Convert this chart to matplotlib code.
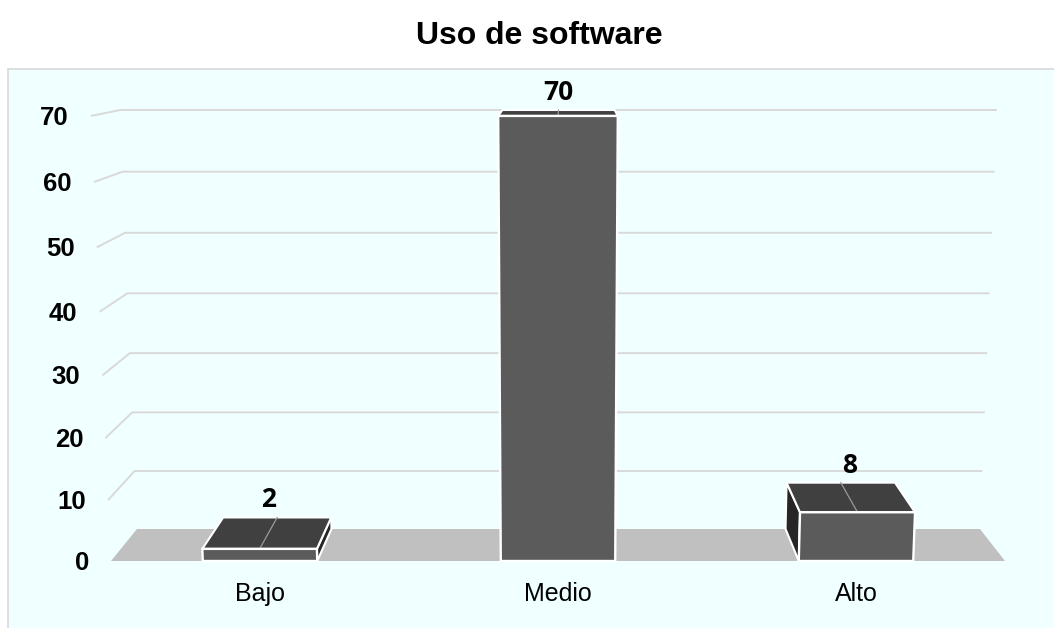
import matplotlib
matplotlib.use("Agg")
import matplotlib.pyplot as plt
from matplotlib.patches import Polygon, Rectangle

# data
categorias = ["Bajo", "Medio", "Alto"]
valores = [2, 70, 8]
ticks = [0, 10, 20, 30, 40, 50, 60, 70]
titulo = "Uso de software"

# colours
FONDO = "#F0FFFF"
MARCO = "#D9D9D9"
PISO = "#C0C0C0"
REJILLA = "#D9D9D9"
CARA_FRONTAL = "#5B5B5B"
CARA_SUPERIOR = "#404040"
CARA_LATERAL = "#262626"

# perspective constants (pixel space of the 1054x628 canvas)
CX = 558.0
FRONT = dict(xl=111.0, xr=1005.0, y0=561.0, a=6.057, b=0.0043, s=0.00064)
BACK = dict(xl=137.0, xr=980.0, y0=529.0, a=5.769, b=0.0031, s=0.00057)
ANCHO_BARRA = 0.128


def plano(p, u, v):
    x = p["xl"] + u * (p["xr"] - p["xl"])
    x = CX + (x - CX) * (1 + p["s"] * v)
    y = p["y0"] - p["a"] * v - p["b"] * v * v
    return x, y


def proj(u, v, d):
    """Map (horizontal fraction, value, depth 0=front..1=back) onto the canvas."""
    xf, yf = plano(FRONT, u, v)
    xb, yb = plano(BACK, u, v)
    return xf + d * (xb - xf), yf + d * (yb - yf)


fig = plt.figure(figsize=(10.54, 6.28), dpi=100)
ax = fig.add_axes([0, 0, 1, 1])
ax.set_xlim(0, 1054)
ax.set_ylim(628, 0)
ax.axis("off")

ax.add_patch(Rectangle((8, 69), 1060, 580, facecolor=FONDO, edgecolor=MARCO, lw=1.2, zorder=0))

# floor
piso = [proj(0, 0, 0), proj(1, 0, 0), proj(1, 0, 1), proj(0, 0, 1)]
ax.add_patch(Polygon(piso, closed=True, facecolor=PISO, edgecolor="none", zorder=1))

# gridlines on side wall and back wall
for t in ticks:
    if t > 0:
        pts = [proj(0, t, 0), proj(0, t, 1), proj(1, t, 1)]
        ax.plot([p[0] for p in pts], [p[1] for p in pts], color=REJILLA, lw=1.4,
                solid_capstyle="butt", zorder=2)
    x, y = proj(0, t, 0)
    ax.text(x - 22, y + 9, str(t), ha="right", va="baseline", fontsize=18.5,
            fontweight="bold", family=["Liberation Sans", "DejaVu Sans"], zorder=5)

# bars
n = len(categorias)
for i, (cat, val) in enumerate(zip(categorias, valores)):
    c = (i + 0.5) / n
    u0, u1 = c - ANCHO_BARRA / 2, c + ANCHO_BARRA / 2
    z = 3
    # side faces, drawn when the back edge sticks out past the front edge
    if proj(u1, val, 1)[0] > proj(u1, val, 0)[0] + 1:
        lado = [proj(u1, 0, 0), proj(u1, val, 0), proj(u1, val, 1), proj(u1, 0, 1)]
        ax.add_patch(Polygon(lado, closed=True, facecolor=CARA_LATERAL, edgecolor="white", lw=1.5, zorder=z))
    if proj(u0, val, 1)[0] < proj(u0, val, 0)[0] - 1:
        lado = [proj(u0, 0, 0), proj(u0, val, 0), proj(u0, val, 1), proj(u0, 0, 1)]
        ax.add_patch(Polygon(lado, closed=True, facecolor=CARA_LATERAL, edgecolor="white", lw=1.5, zorder=z))
    tapa = [proj(u0, val, 0), proj(u1, val, 0), proj(u1, val, 1), proj(u0, val, 1)]
    ax.add_patch(Polygon(tapa, closed=True, facecolor=CARA_SUPERIOR, edgecolor="white", lw=1.5, zorder=z))
    m0, m1 = proj(c, val, 0), proj(c, val, 1)
    ax.plot([m0[0], m1[0]], [m0[1], m1[1]], color="#9A9A9A", lw=0.9, zorder=z)
    frente = [proj(u0, 0, 0), proj(u1, 0, 0), proj(u1, val, 0), proj(u0, val, 0)]
    ax.add_patch(Polygon(frente, closed=True, facecolor=CARA_FRONTAL, edgecolor="white", lw=1.7, zorder=z + 1))

    # data label
    xl, yl = proj(c, val, 0.5)
    _, ytop = proj(c, val, 1)
    ax.text(xl, ytop - 10, str(val), ha="center", va="baseline", fontsize=19,
            fontweight="bold", family=["Open Sans", "DejaVu Sans"], zorder=6)

    # category label
    xc, yc = proj(c, 0, 0)
    ax.text(xc, yc + 40, cat, ha="center", va="baseline", fontsize=18,
            family=["Liberation Sans", "DejaVu Sans"], zorder=6)

fig.text(539 / 1054, 1 - 44 / 628, titulo, ha="center", va="baseline", fontsize=23,
         fontweight="bold", family=["Liberation Sans", "DejaVu Sans"])

fig.savefig("out.png", dpi=100, facecolor="white")
